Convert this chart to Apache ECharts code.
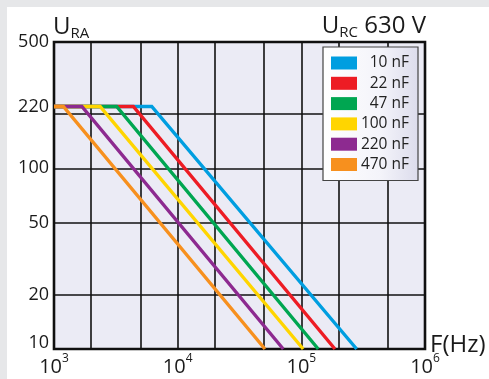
<!DOCTYPE html>
<html>
<head>
<meta charset="utf-8">
<script src="https://cdn.jsdelivr.net/npm/echarts@6/dist/echarts.min.js"></script>
<style>
html,body{margin:0;padding:0;background:#e6e7e9;width:489px;height:379px;overflow:hidden;}
#card{position:absolute;left:7px;top:7px;width:482px;height:372px;background:#fff;}
#chart{position:absolute;left:0;top:0;width:489px;height:379px;}
</style>
</head>
<body>
<div id="card"></div>
<div id="chart"></div>
<script>
// ---- data (real units) ----
const capacitors = ['10 nF', '22 nF', '47 nF', '100 nF', '220 nF', '470 nF'];
const colors = ['#009ee0', '#ed1c24', '#00a651', '#ffd500', '#8d2a90', '#f7901e'];
const startFreq = 1000;            // Hz
const plateauVoltage = 220;        // V
const cornerFreq = [6170, 4380, 3210, 2360, 1680, 1190];          // Hz, end of plateau
const endFreq = [280000, 187000, 137000, 103500, 71400, 50800];   // Hz, where curve reaches 10 V
const endVoltage = 10;             // V

const xTickValues = [1e3, 2e3, 5e3, 1e4, 2e4, 5e4, 1e5, 2e5, 5e5, 1e6];
const xLabelValues = [1e3, 1e4, 1e5, 1e6];
const yTickValues = [10, 20, 50, 100, 200, 500];
const yLabelValues = [10, 20, 50, 100, 220, 500];

const L = Math.log10;
const FONT = 'Open Sans';
const TXT = '#1a1a1a';

const series = capacitors.map((name, i) => ({
  name: name,
  type: 'line',
  symbol: 'none',
  lineStyle: { color: colors[i], width: 3.4, cap: 'butt', join: 'miter' },
  itemStyle: { color: colors[i] },
  data: [
    [L(startFreq), L(plateauVoltage)],
    [L(cornerFreq[i]), L(plateauVoltage)],
    [L(endFreq[i]), L(endVoltage)]
  ]
}));

const richTitle = {
  u: { fontFamily: FONT, fontSize: 24, fontWeight: 'normal', color: TXT, lineHeight: 28 },
  s: { fontFamily: FONT, fontSize: 15, fontWeight: 'normal', color: TXT, verticalAlign: 'bottom', lineHeight: 20, padding: [9, 0, 0, 0] }
};

const chart = echarts.init(document.getElementById('chart'), null, { renderer: 'canvas' });
chart.setOption({
  animation: false,
  textStyle: { fontFamily: FONT },
  grid: {
    left: 54, right: 64, top: 42, bottom: 30,
    outerBoundsMode: 'none', containLabel: false,
    show: true, backgroundColor: '#ebebf5', borderColor: '#111', borderWidth: 2.6
  },
  title: [{
    text: '{u|U}{s|RC}{u| 630 V}',
    right: 63, top: 12, padding: 0,
    textStyle: { fontWeight: 'normal', rich: richTitle }
  }, {
    text: '{u|U}{s|RA}',
    left: 53, top: 13, padding: 0,
    textStyle: { fontWeight: 'normal', rich: richTitle }
  }, {
    text: 'F(Hz)',
    left: 430, top: 331, padding: 0,
    textStyle: { fontFamily: FONT, fontSize: 24, fontWeight: 'normal', color: TXT, lineHeight: 28 }
  }],
  legend: {
    orient: 'vertical',
    left: 323, top: 47,
    padding: [8, 9, 8, 8],
    itemWidth: 26, itemHeight: 13, itemGap: 4.3,
    icon: 'rect',
    borderColor: '#444', borderWidth: 1.2,
    backgroundColor: {
      type: 'linear', x: 0, y: 0, x2: 1, y2: 0,
      colorStops: [{ offset: 0, color: '#ffffff' }, { offset: 0.6, color: '#f4f4fa' }, { offset: 1, color: '#dcdcec' }]
    },
    selectedMode: false,
    formatter: n => '{t|' + n + '}',
    textStyle: {
      rich: { t: { fontFamily: FONT, fontSize: 15.5, color: '#222', width: 47, align: 'right' } }
    },
    data: capacitors
  },
  xAxis: {
    type: 'value', min: L(1e3), max: L(1e6),
    axisLine: { show: false },
    axisTick: { show: false, customValues: xTickValues.map(L) },
    splitLine: { show: true, lineStyle: { color: '#111', width: 1.6 } },
    axisLabel: {
      customValues: xLabelValues.map(L),
      margin: 4,
      hideOverlap: false,
      formatter: v => '{b|10}{s|' + Math.round(v) + '}',
      rich: {
        b: { fontFamily: FONT, fontSize: 20, color: TXT, lineHeight: 24, verticalAlign: 'bottom' },
        s: { fontFamily: FONT, fontSize: 12, color: TXT, verticalAlign: 'top', lineHeight: 8 }
      }
    }
  },
  yAxis: {
    type: 'value', min: L(10), max: L(500),
    axisLine: { show: false },
    axisTick: { show: false, customValues: yTickValues.map(L) },
    splitLine: { show: true, lineStyle: { color: '#111', width: 1.6 } },
    axisLabel: {
      customValues: yLabelValues.map(L),
      margin: 5,
      formatter: v => {
        const n = Math.round(Math.pow(10, v));
        return n === 10 ? '{low|10}' : '{n|' + n + '}';
      },
      rich: {
        n: { fontFamily: FONT, fontSize: 18, color: TXT },
        low: { fontFamily: FONT, fontSize: 18, color: TXT, padding: [0, 0, 12, 0] }
      }
    }
  },
  series: series
});
</script>
</body>
</html>
